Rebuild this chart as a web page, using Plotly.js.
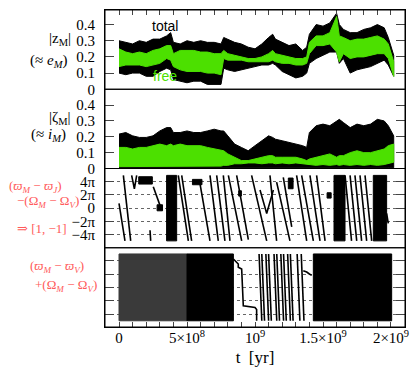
<!DOCTYPE html>
<html>
<head>
<meta charset="utf-8">
<script src="https://cdn.plot.ly/plotly-3.0.1.min.js"></script>
<style>
  body { margin: 0; background: #fff; }
  #graph { width: 415px; height: 372px; }
</style>
</head>
<body>
<div id="graph"></div>
<script>
// time samples for the envelopes of |z| and |zeta| (yr)
var tEnv = [0, 0.5e8, 1e8, 1.5e8, 2e8, 2.5e8, 3e8, 3.5e8, 3.8e8, 4e8, 4.5e8, 5e8, 5.5e8, 6e8, 6.5e8,
            7e8, 7.5e8, 7.7e8, 8e8, 8.5e8, 9e8, 9.5e8, 10e8, 10.5e8, 11e8, 11.3e8, 11.5e8, 12e8,
            12.5e8, 13e8, 13.5e8, 13.8e8, 14e8, 14.5e8, 15e8, 15.5e8, 16e8, 16.2e8, 16.5e8, 17e8,
            17.5e8, 18e8, 18.5e8, 19e8, 19.5e8, 19.8e8, 20.2e8];

// panel 1 : |z_M|
var zTotHi  = [0.30,0.29,0.28,0.30,0.29,0.31,0.31,0.33,0.35,0.29,0.28,0.30,0.29,0.30,0.29,
               0.29,0.28,0.32,0.31,0.29,0.28,0.26,0.25,0.28,0.32,0.34,0.31,0.29,
               0.27,0.28,0.24,0.26,0.34,0.40,0.39,0.41,0.47,0.40,0.37,0.35,
               0.35,0.37,0.38,0.40,0.38,0.32,0.21];
var zTotLo  = [0.10,0.09,0.10,0.10,0.08,0.08,0.11,0.13,0.12,0.06,0.05,0.04,0.05,0.05,0.03,
               0.03,0.03,0.13,0.12,0.11,0.12,0.13,0.14,0.15,0.15,0.16,0.15,0.11,
               0.09,0.07,0.08,0.10,0.16,0.19,0.21,0.23,0.23,0.16,0.19,0.10,
               0.12,0.13,0.14,0.16,0.18,0.15,0.08];
var zFreeHi = [0.25,0.23,0.22,0.23,0.22,0.24,0.25,0.27,0.27,0.22,0.24,0.24,0.24,0.23,0.23,
               0.22,0.22,0.24,0.22,0.21,0.20,0.19,0.19,0.20,0.22,0.24,0.22,0.21,
               0.20,0.19,0.19,0.20,0.29,0.33,0.33,0.35,0.45,0.33,0.32,0.30,
               0.31,0.31,0.32,0.33,0.31,0.28,0.17];
var zFreeLo = [0.14,0.15,0.15,0.15,0.14,0.15,0.16,0.19,0.18,0.14,0.12,0.11,0.11,0.11,0.10,
               0.10,0.09,0.19,0.18,0.18,0.18,0.17,0.17,0.17,0.17,0.18,0.17,0.16,
               0.16,0.15,0.15,0.16,0.22,0.27,0.27,0.28,0.23,0.17,0.22,0.19,
               0.20,0.20,0.21,0.22,0.22,0.19,0.08];

// panel 2 : |zeta_M|
var iTotHi  = [0.217,0.227,0.206,0.196,0.196,0.206,0.237,0.258,0.258,0.227,0.227,0.237,0.227,0.227,0.237,
               0.248,0.237,0.237,0.206,0.154,0.133,0.112,0.144,0.175,0.206,0.196,0.185,0.175,
               0.165,0.154,0.144,0.133,0.227,0.27,0.28,0.27,0.30,0.31,0.29,0.258,
               0.28,0.27,0.28,0.31,0.30,0.27,0.206];
var iTotLo  = [0.005,0.005,0.005,0.005,0.005,0.005,0.005,0.005,0.005,0.005,0.005,0.005,0.005,0.005,0.005,
               0.005,0.005,0.005,0.005,0.005,0.005,0.005,0.005,0.005,0.005,0.005,0.005,0.005,
               0.005,0.005,0.005,0.005,0.005,0.005,0.005,0.005,0.005,0.005,0.005,0.005,
               0.005,0.005,0.005,0.005,0.005,0.005,0.005];
var iFreeHi = [0.133,0.133,0.123,0.133,0.133,0.144,0.154,0.144,0.154,0.144,0.154,0.144,0.144,0.144,0.133,
               0.123,0.112,0.112,0.092,0.071,0.05,0.05,0.06,0.071,0.081,0.081,0.071,0.071,
               0.071,0.071,0.06,0.05,0.06,0.071,0.081,0.092,0.071,0.081,0.081,0.10,
               0.112,0.10,0.10,0.112,0.123,0.144,0.154];
var iFreeLo = [0.012,0.015,0.012,0.015,0.012,0.015,0.012,0.015,0.012,0.015,0.012,0.015,0.012,0.015,0.012,
               0.015,0.015,0.02,0.02,0.03,0.03,0.035,0.035,0.03,0.035,0.035,0.03,0.035,
               0.03,0.035,0.03,0.03,0.025,0.02,0.025,0.02,0.025,0.02,0.025,0.02,
               0.025,0.02,0.025,0.02,0.025,0.03,0.04];

// panel 3 : resonant angle (units of pi), individual tracks
var p3LineT = [
  [0, 0.44e8], [0.32e8, 0.86e8], [0.93e8, 1.13e8, 1.30e8], [2.28e8, 2.33e8], [2.52e8, 3.14e8],
  [4.36e8, 5.10e8], [4.61e8, 5.34e8], [5.96e8, 6.69e8], [6.69e8, 7.30e8], [7.18e8, 7.79e8],
  [7.67e8, 8.16e8], [8.04e8, 9.02e8], [8.65e8, 9.51e8], [9.75e8, 10.86e8], [10.37e8, 10.86e8, 11.35e8],
  [11.1e8, 11.59e8], [11.59e8, 12.57e8], [12.08e8, 12.7e8], [13.06e8, 13.8e8], [13.43e8, 14.29e8],
  [14.04e8, 14.78e8], [14.53e8, 15.15e8], [16.62e8, 17.1e8], [16.99e8, 17.48e8], [17.35e8, 17.84e8],
  [17.72e8, 18.21e8], [18.09e8, 18.58e8], [19.68e8, 19.8e8]
];
var p3LinePhi = [
  [0.7, -4.9], [4.9, -4.9], [4.9, 2.9, 4.9], [-3.3, -4.9], [3.2, -0.3],
  [4.9, -4.9], [4.9, -4.9], [3.6, -4.9], [4.9, -4.9], [4.9, -4.9],
  [4.9, -4.9], [4.9, -4.9], [4.9, -4.7], [4.9, -4.9], [2.7, -0.8, 2.7],
  [4.9, -4.9], [3.9, -4.9], [4.6, -2.8], [4.9, -4.9], [4.9, -4.9],
  [4.9, -4.9], [4.9, -4.9], [4.9, -4.9], [4.9, -4.9], [4.9, -4.9],
  [4.9, -4.9], [4.9, -4.9], [-0.8, -2.3]
];
// panel 3 : dense (filled) stretches
var p3BlockT0 = [1.45e8, 2.80e8, 3.50e8, 5.40e8, 8.80e8, 12.45e8, 15.30e8, 15.81e8, 18.70e8];
var p3BlockT1 = [2.45e8, 3.20e8, 4.24e8, 6.10e8, 9.00e8, 12.80e8, 15.60e8, 16.62e8, 19.68e8];
var p3BlockLo = [3.6, -0.4, -4.9, 3.5, 1.8, 2.9, 1.5, -4.9, -4.9];
var p3BlockHi = [4.7, 0.5, 4.9, 4.3, 2.6, 4.5, 2.3, 4.9, 4.9];

// panel 4 : resonant angle (units of pi)
var p4GreyT0 = [0];
var p4GreyT1 = [5.0e8];
var p4DarkT0 = [5.0e8, 14.29e8];
var p4DarkT1 = [8.41e8, 20.05e8];
var p4StepT   = [8.41e8, 8.77e8, 8.77e8, 9.02e8, 9.14e8, 10.0e8, 10.12e8, 10.12e8];
var p4StepPhi = [4.25, 3.5, 3.0, 2.75, -2.75, -3.0, -3.3, -5.0];
var p4SweepT0 = [10.3e8, 10.5e8, 10.8e8, 11.0e8, 11.4e8, 11.6e8, 11.9e8, 12.1e8, 12.4e8, 12.6e8, 13.1e8, 13.4e8];
var p4SweepT1 = [10.5e8, 10.7e8, 11.0e8, 11.2e8, 11.6e8, 11.8e8, 12.1e8, 12.3e8, 12.6e8, 12.8e8, 13.3e8, 13.6e8];
var p4BlobT   = [13.55e8, 13.8e8, 14.0e8, 14.17e8];
var p4BlobPhi = [2.5, 2.3, 2.0, 1.8];

// axis ticks
var xTickVals = [0, 1e8, 2e8, 3e8, 4e8, 5e8, 6e8, 7e8, 8e8, 9e8, 10e8, 11e8, 12e8, 13e8, 14e8,
                 15e8, 16e8, 17e8, 18e8, 19e8, 20e8];
var xTickText = ['0', '', '', '', '', '5×10<sup>8</sup>', '', '', '', '', '10<sup>9</sup>', '', '', '', '',
                 '1.5×10<sup>9</sup>', '', '', '', '', '2×10<sup>9</sup>'];
var eTickVals = [0, 0.1, 0.2, 0.3, 0.4];
var eTickText = ['0', '0.1', '0.2', '0.3', '0.4'];
var phiTickVals = [-4, -2, 0, 2, 4];
var phiTickText = ['−4π', '−2π', '0', '2π', '4π'];

var GREEN = '#4ce000';
var PINK = '#ff5a5a';

function band(t, lo, hi, color, xa, ya) {
  return {
    x: t.concat(t.slice().reverse()),
    y: hi.concat(lo.slice().reverse()),
    xaxis: xa, yaxis: ya,
    type: 'scatter', mode: 'lines', fill: 'toself',
    fillcolor: color, line: {color: color, width: 1},
    hoverinfo: 'skip', showlegend: false
  };
}

function blocks(t0, t1, lo, hi, color, ya) {
  var xs = [], ys = [];
  for (var i = 0; i < t0.length; i++) {
    xs.push(t0[i], t1[i], t1[i], t0[i], t0[i], null);
    ys.push(lo[i], lo[i], hi[i], hi[i], lo[i], null);
  }
  return {
    x: xs, y: ys, xaxis: 'x', yaxis: ya,
    type: 'scatter', mode: 'lines', fill: 'toself',
    fillcolor: color, line: {color: color, width: 1},
    hoverinfo: 'skip', showlegend: false
  };
}

function tracks(ts, ps, ya, w) {
  var xs = [], ys = [];
  for (var i = 0; i < ts.length; i++) {
    xs = xs.concat(ts[i], [null]);
    ys = ys.concat(ps[i], [null]);
  }
  return {
    x: xs, y: ys, xaxis: 'x', yaxis: ya,
    type: 'scatter', mode: 'lines', connectgaps: false,
    line: {color: 'black', width: w},
    hoverinfo: 'skip', showlegend: false
  };
}

// panel 4 sweeps, top to bottom
var p4SweepX = [], p4SweepY = [];
for (var i = 0; i < p4SweepT0.length; i++) {
  p4SweepX.push([p4SweepT0[i], p4SweepT1[i]]);
  p4SweepY.push([5.0, -5.0]);
}

var data = [
  band(tEnv, zTotLo, zTotHi, 'black', 'x2', 'y'),
  band(tEnv, zFreeLo, zFreeHi, GREEN, 'x2', 'y'),
  band(tEnv, iTotLo, iTotHi, 'black', 'x', 'y2'),
  band(tEnv, iFreeLo, iFreeHi, GREEN, 'x', 'y2'),
  blocks(p3BlockT0, p3BlockT1, p3BlockLo, p3BlockHi, 'black', 'y3'),
  tracks(p3LineT, p3LinePhi, 'y3', 1.6),
  blocks(p4GreyT0, p4GreyT1, [-5.0], [5.0], '#3a3a3a', 'y4'),
  blocks(p4DarkT0, p4DarkT1, [-5.0, -5.0], [5.0, 5.0], 'black', 'y4'),
  tracks([p4StepT, p4BlobT].concat(p4SweepX), [p4StepPhi, p4BlobPhi].concat(p4SweepY), 'y4', 1.6)
];

var tickFont = {family: 'Liberation Serif, DejaVu Serif, serif', size: 15, color: 'black'};

function yAxis(domain, range, vals, text, showLabels, grid) {
  return {
    domain: domain, range: range, anchor: domain[1] === 1 ? 'x2' : 'x',
    tickmode: 'array', tickvals: vals, ticktext: text,
    showticklabels: showLabels, tickfont: tickFont,
    ticks: 'inside', ticklen: 9, tickcolor: '#444', tickwidth: 1,
    showline: true, linecolor: 'black', linewidth: 1, mirror: 'ticks',
    showgrid: grid, gridcolor: '#666', griddash: 'dot', gridwidth: 1,
    zeroline: false, fixedrange: true, ticklabelstandoff: 6
  };
}

var xRange = [-1.03e8, 2.103e9];

var layout = {
  width: 415, height: 372,
  margin: {l: 105, r: 10, t: 10, b: 45},
  paper_bgcolor: 'white', plot_bgcolor: 'white',
  showlegend: false,
  xaxis: {
    anchor: 'y4', range: xRange, tickmode: 'array', tickvals: xTickVals, ticktext: xTickText,
    tickfont: tickFont, ticks: 'inside', ticklen: 5, tickcolor: '#444',
    showline: true, linecolor: 'black', showgrid: false, zeroline: false,
    ticklabelstandoff: -3,
    title: {text: 't  [yr]', font: {family: 'Liberation Serif, serif', size: 17, color: 'black'}, standoff: 6}
  },
  xaxis2: {
    anchor: 'y', side: 'top', matches: 'x', range: xRange,
    tickmode: 'array', tickvals: xTickVals, showticklabels: false,
    ticks: 'inside', ticklen: 5, tickcolor: '#444',
    showline: true, linecolor: 'black', showgrid: false, zeroline: false
  },
  yaxis:  yAxis([0.75, 1], [0, 0.49], eTickVals, eTickText, true, false),
  yaxis2: yAxis([0.5, 0.75], [0, 0.5], eTickVals, eTickText, true, false),
  yaxis3: yAxis([0.25, 0.5], [-5.93, 5.93], phiTickVals, phiTickText, true, true),
  yaxis4: yAxis([0, 0.25], [-5.93, 5.93], phiTickVals, phiTickText, false, true),
  shapes: ['y', 'y2', 'y3', 'y4'].map(function (ya) {
    return {type: 'rect', xref: 'paper', yref: ya + ' domain', x0: 0, x1: 1, y0: 0, y1: 1,
            line: {color: 'black', width: 1}, layer: 'above'};
  }),
  annotations: [
    {text: '|z<sub>M</sub>|', x: -0.15, y: 0.909},
    {text: '(≈ <i>e<sub>M</sub></i>)', x: -0.19, y: 0.840},
    {text: '|ζ<sub>M</sub>|', x: -0.15, y: 0.660},
    {text: '(≈ <i>i<sub>M</sub></i>)', x: -0.19, y: 0.607},
    {text: '(<i>ϖ<sub>M</sub></i> − <i>ϖ<sub>J</sub></i>)', x: -0.233, y: 0.443, color: PINK, size: 13},
    {text: '−(Ω<sub><i>M</i></sub> − Ω<sub><i>V</i></sub>)', x: -0.19, y: 0.396, color: PINK, size: 13},
    {text: '⇒ [1, −1]', x: -0.21, y: 0.311, color: PINK, size: 13},
    {text: '(<i>ϖ<sub>M</sub></i> − <i>ϖ<sub>V</sub></i>)', x: -0.16, y: 0.192, color: PINK, size: 13},
    {text: '+(Ω<sub><i>M</i></sub> − Ω<sub><i>V</i></sub>)', x: -0.13, y: 0.132, color: PINK, size: 13},
    {text: 'total', x: 0.2, y: 0.950, sans: true},
    {text: 'free', x: 0.2, y: 0.792, sans: true, color: GREEN}
  ].map(function (a) {
    return {
      text: a.text, x: a.x, y: a.y, xref: 'paper', yref: 'paper',
      xanchor: 'center', yanchor: 'middle', showarrow: false,
      font: {
        family: a.sans ? 'Liberation Sans, Arial, sans-serif' : 'Liberation Serif, DejaVu Serif, serif',
        size: a.size || (a.sans ? 14 : 15), color: a.color || 'black'
      }
    };
  })
};

Plotly.newPlot('graph', data, layout, {staticPlot: true});
</script>
</body>
</html>
